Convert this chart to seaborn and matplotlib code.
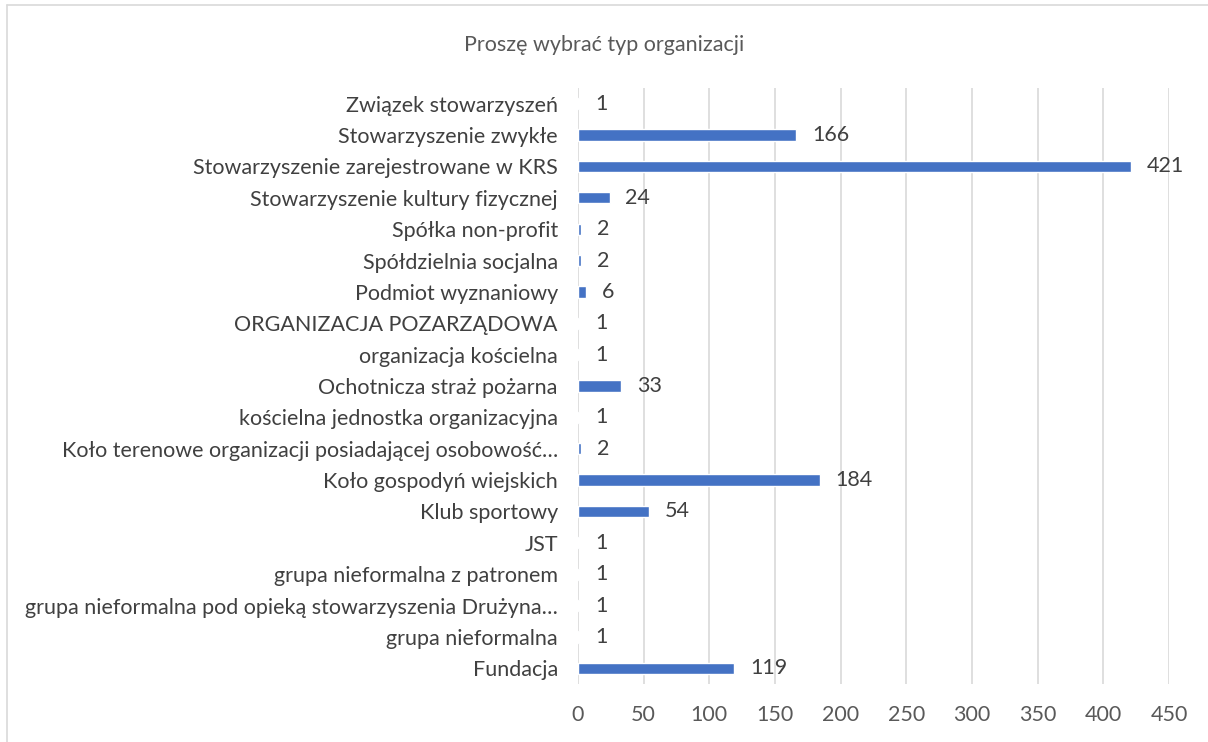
import matplotlib
matplotlib.use("Agg")
import matplotlib.pyplot as plt
import seaborn as sns
import pandas as pd
from matplotlib.lines import Line2D

categories = [
    "Związek stowarzyszeń",
    "Stowarzyszenie zwykłe",
    "Stowarzyszenie zarejestrowane w KRS",
    "Stowarzyszenie kultury fizycznej",
    "Spółka non-profit",
    "Spółdzielnia socjalna",
    "Podmiot wyznaniowy",
    "ORGANIZACJA POZARZĄDOWA",
    "organizacja kościelna",
    "Ochotnicza straż pożarna",
    "kościelna jednostka organizacyjna",
    "Koło terenowe organizacji posiadającej osobowość…",
    "Koło gospodyń wiejskich",
    "Klub sportowy",
    "JST",
    "grupa nieformalna z patronem",
    "grupa nieformalna pod opieką stowarzyszenia Drużyna…",
    "grupa nieformalna",
    "Fundacja",
]
values = [1, 166, 421, 24, 2, 2, 6, 1, 1, 33, 1, 2, 184, 54, 1, 1, 1, 1, 119]
x_ticks = [0, 50, 100, 150, 200, 250, 300, 350, 400, 450]
title = "Proszę wybrać typ organizacji"

sns.set_theme(style="white")
plt.rcParams["font.family"] = ["Lato", "DejaVu Sans"]

W, H = 1208, 742
fig = plt.figure(figsize=(W / 100, H / 100), dpi=100)
ax = fig.add_axes([578 / W, 1 - 684 / H, (1169 - 578) / W, (684 - 88) / H])

df = pd.DataFrame({"cat": categories, "val": values})
sns.barplot(data=df, x="val", y="cat", orient="h", color="#4472C4",
            width=0.36, saturation=1, ax=ax, zorder=3)

FS = 15.5
ax.set_xlim(0, 450)
ax.set_ylim(18.5, -0.5)
ax.set_xticks(x_ticks)
ax.set_xticklabels([str(t) for t in x_ticks])
ax.grid(axis="x", color="#D9D9D9", linewidth=1.2, zorder=0)
ax.grid(axis="y", visible=False)
for s in ["top", "right", "bottom", "left"]:
    ax.spines[s].set_visible(False)
ax.tick_params(axis="y", length=0, pad=14.5, labelsize=FS, labelcolor="#404040")
ax.tick_params(axis="x", length=0, pad=15, labelsize=FS, labelcolor="#595959")
ax.set_xlabel("")
ax.set_ylabel("")

for i, v in enumerate(values):
    ax.annotate(str(v), xy=(v, i), xytext=(11.5, 0), textcoords="offset points",
                va="center", ha="left", fontsize=FS, color="#404040")

fig.text(0.5, 1 - 45 / H, title, ha="center", va="center", fontsize=FS,
         color="#595959")

# chart area border
fig.add_artist(Line2D([7 / W, 7 / W], [0, 1 - 5 / H], transform=fig.transFigure,
                      color="#D9D9D9", linewidth=1.2))
fig.add_artist(Line2D([7 / W, 1], [1 - 5 / H, 1 - 5 / H], transform=fig.transFigure,
                      color="#D9D9D9", linewidth=1.2))

fig.savefig("out.png", dpi=100, facecolor="white")
